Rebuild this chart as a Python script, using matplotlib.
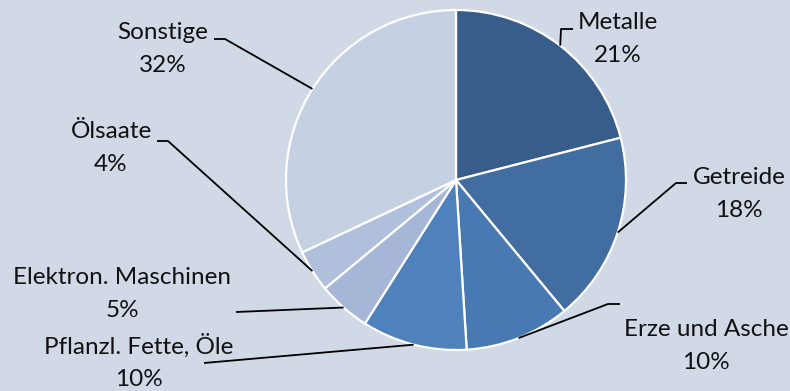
import matplotlib.pyplot as plt
import numpy as np

# data
labels = ['Metalle', 'Getreide', 'Erze und Asche', 'Pflanzl. Fette, Öle',
          'Elektron. Maschinen', 'Ölsaate', 'Sonstige']
shares = [21, 18, 10, 10, 5, 4, 32]
colors = ['#385D8A', '#426DA0', '#4879B3', '#4F81BD', '#A5B6D6', '#B0BFDB', '#C5D0E2']

# layout in pixel coordinates (y from top), label centre + leader elbow/end
label_pos = [(618, 39), (739, 194), (706, 346), (139, 362), (122, 294), (111, 148), (163, 49)]
elbows = [(561, 29), (676, 183), (608, 304), None, None, (168, 141), (225, 39)]
ends = [(573, 29), (687, 183), (620, 304), (204, 363), (236, 312), (157, 141), (214, 39)]

W, H = 790, 391
bg = '#D1D9E7'
cx, cy, r = 456, 180, 170

fig = plt.figure(figsize=(7.9, 3.91), dpi=100)
fig.patch.set_facecolor(bg)
ax = fig.add_axes([0, 0, 1, 1])
ax.set_facecolor(bg)

wedges, _ = ax.pie(shares, colors=colors, startangle=90, counterclock=False,
                   center=(cx, H - cy), radius=r,
                   wedgeprops=dict(edgecolor='white', linewidth=1.6))
ax.set_xlim(0, W)
ax.set_ylim(0, H)
ax.set_aspect('equal')
ax.axis('off')

for i, w in enumerate(wedges):
    mid = np.deg2rad((w.theta1 + w.theta2) / 2)
    x0 = cx + r * np.cos(mid)
    y0 = (H - cy) + r * np.sin(mid)
    pts = [(x0, y0)]
    if elbows[i] is not None:
        pts.append((elbows[i][0], H - elbows[i][1]))
    pts.append((ends[i][0], H - ends[i][1]))
    xs, ys = zip(*pts)
    ax.plot(xs, ys, color='black', lw=1.3, solid_capstyle='butt')
    lx, ly = label_pos[i]
    ax.text(lx, H - ly, f'{labels[i]}\n{shares[i]}%', ha='center', va='center',
            fontsize=17.5, family='Lato', linespacing=1.65, color='#111111')

fig.savefig('out.png', dpi=100, facecolor=bg)
